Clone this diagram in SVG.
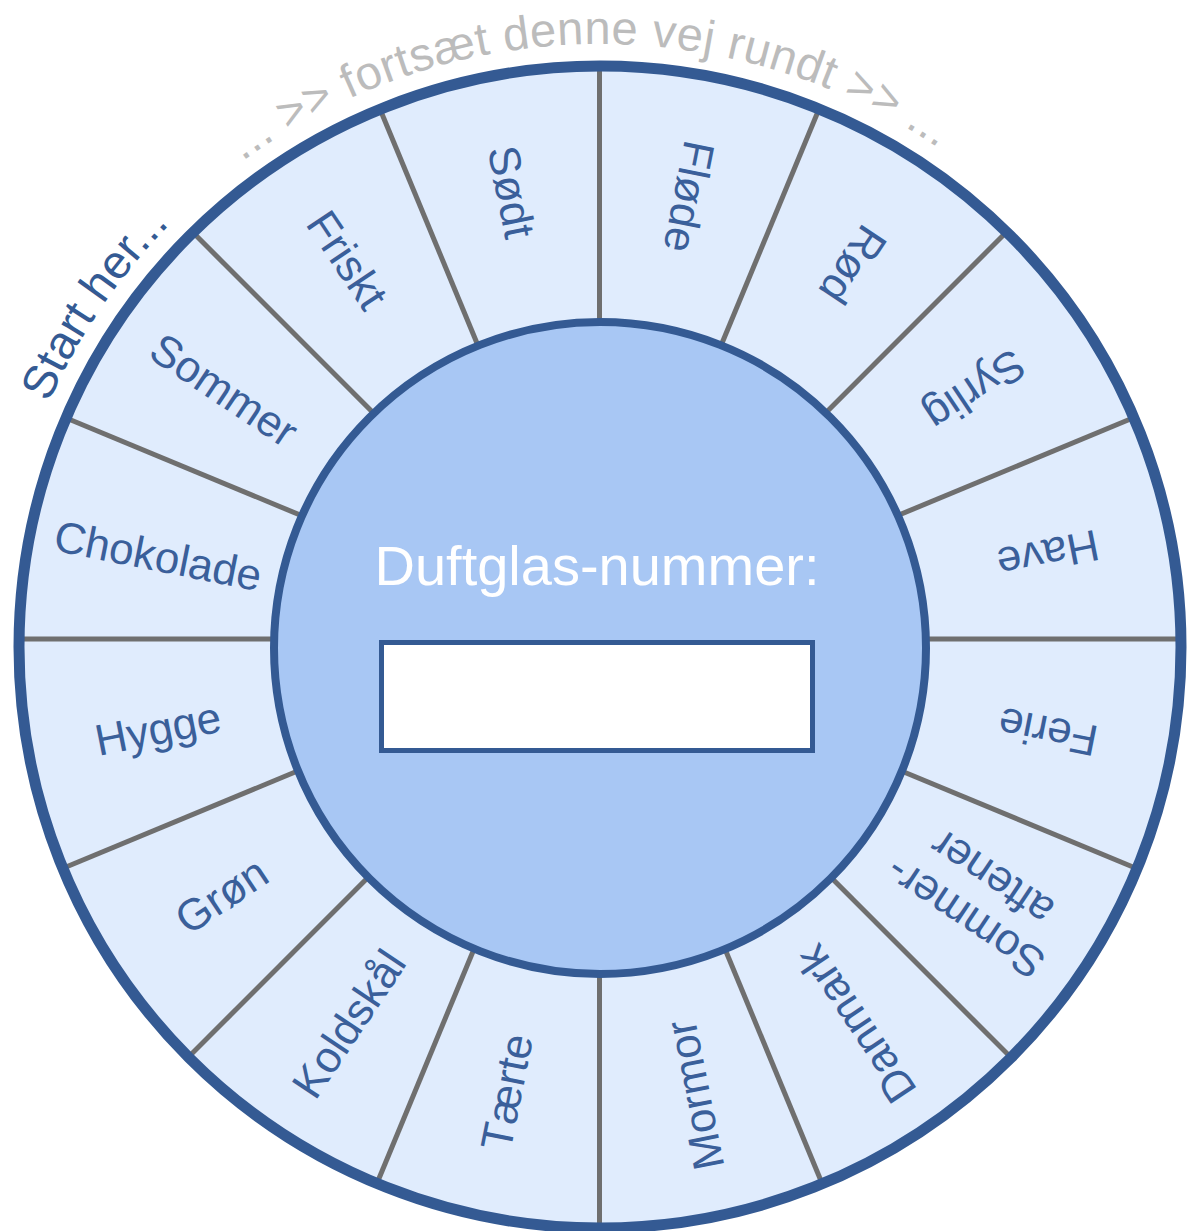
<svg xmlns="http://www.w3.org/2000/svg" width="1192" height="1231" viewBox="0 0 1192 1231">
  <defs>
    <style>
      .lbl { font-family: "Liberation Sans", Arial, sans-serif; font-size: 44px; fill: #3a5f9a; text-anchor: middle; }
      .div { stroke: #6f6f6f; stroke-width: 5; stroke-linecap: butt; }
      .arc { font-family: "Liberation Sans", Arial, sans-serif; font-size: 47px; }
    </style>
    <path id="topArc" d="M -3,647 A 603 603 0 0 1 1203,647" fill="none"/>
  </defs>
  <rect width="1192" height="1231" fill="#ffffff"/>

  <g id="ring">
    <circle cx="600" cy="647" r="581" fill="#e0ecfd"/>
  </g>

  <g id="connectors">
    <line class="div" x1="299.5" y1="639" x2="21.5" y2="639"/>
    <line class="div" x1="322.3" y1="524.2" x2="65.5" y2="417.8"/>
    <line class="div" x1="387.4" y1="426.9" x2="190.8" y2="230.3"/>
    <line class="div" x1="484.7" y1="361.8" x2="378.3" y2="105.0"/>
    <line class="div" x1="599.5" y1="339" x2="599.5" y2="61"/>
    <line class="div" x1="714.3" y1="361.8" x2="820.7" y2="105.0"/>
    <line class="div" x1="811.6" y1="426.9" x2="1008.2" y2="230.3"/>
    <line class="div" x1="876.7" y1="524.2" x2="1133.5" y2="417.8"/>
    <line class="div" x1="899.5" y1="639" x2="1177.5" y2="639"/>
    <line class="div" x1="876.7" y1="760.8" x2="1137.2" y2="868.7"/>
    <line class="div" x1="811.6" y1="858.1" x2="1011.0" y2="1057.5"/>
    <line class="div" x1="714.3" y1="923.2" x2="822.2" y2="1183.7"/>
    <line class="div" x1="599.5" y1="946" x2="599.5" y2="1228"/>
    <line class="div" x1="484.7" y1="923.2" x2="376.8" y2="1183.7"/>
    <line class="div" x1="387.4" y1="858.1" x2="188.0" y2="1057.5"/>
    <line class="div" x1="322.3" y1="760.8" x2="61.8" y2="868.7"/>
  </g>

  <g id="outer-rim">
    <circle cx="600" cy="647" r="581" fill="none" stroke="#345a93" stroke-width="11"/>
  </g>

  <g id="center">
    <circle cx="600" cy="648" r="326" fill="#a8c7f4" stroke="#345a93" stroke-width="8"/>
    <text x="597" y="585" font-family="'Liberation Sans', Arial, sans-serif" font-size="56" fill="#ffffff" text-anchor="middle">Duftglas-nummer:</text>
    <rect x="381.5" y="642.5" width="431" height="108" fill="#ffffff" stroke="#345a93" stroke-width="5"/>
  </g>

  <g id="label-sodt"><text class="lbl" transform="translate(511.2,192) rotate(78.75)" y="15">Sødt</text></g>
  <g id="label-flode"><text class="lbl" transform="translate(688.8,196.7) rotate(101.25)" y="15">Fløde</text></g>
  <g id="label-rod"><text class="lbl" transform="translate(852.8,264.7) rotate(123.75)" y="15">Rød</text></g>
  <g id="label-syrlig"><text class="lbl" transform="translate(975,390.2) rotate(146.25)" y="15">Syrlig</text></g>
  <g id="label-have"><text class="lbl" transform="translate(1048,554.2) rotate(168.75)" y="15">Have</text></g>
  <g id="label-ferie"><text class="lbl" transform="translate(1048,731.8) rotate(191.25)" y="15">Ferie</text></g>
  <g id="label-sommeraftener"><text class="lbl" transform="translate(978.3,898) rotate(213.75)"><tspan x="0" y="-9">Sommer-</tspan><tspan x="0" y="39">aftener</tspan></text></g>
  <g id="label-danmark"><text class="lbl" transform="translate(856,1024) rotate(236.25)" y="15">Danmark</text></g>
  <g id="label-mormor"><text class="lbl" transform="translate(695,1095) rotate(258.75)" y="15">Mormor</text></g>
  <g id="label-taerte"><text class="lbl" transform="translate(507,1092) rotate(-78.75)" y="15">Tærte</text></g>
  <g id="label-koldskal"><text class="lbl" transform="translate(349,1024) rotate(-56.25)" y="15">Koldskål</text></g>
  <g id="label-gron"><text class="lbl" transform="translate(221.7,895.8) rotate(-33.75)" y="15">Grøn</text></g>
  <g id="label-hygge"><text class="lbl" transform="translate(158,729) rotate(-11.25)" y="15">Hygge</text></g>
  <g id="label-chokolade"><text class="lbl" transform="translate(158,556) rotate(11.25)" y="15">Chokolade</text></g>
  <g id="label-sommer"><text class="lbl" transform="translate(224,390.2) rotate(33.75)" y="15">Sommer</text></g>
  <g id="label-friskt"><text class="lbl" transform="translate(347.2,260) rotate(56.25)" y="15">Friskt</text></g>

  <g id="arc-texts">
    <text class="arc" fill="#345a93" text-anchor="middle"><textPath href="#topArc" startOffset="19.0%">Start her...</textPath></text>
    <text class="arc" fill="#bcbcbc" text-anchor="middle" letter-spacing="0.5"><textPath href="#topArc" startOffset="49.4%">... &gt;&gt; fortsæt denne vej rundt &gt;&gt; ...</textPath></text>
  </g>
</svg>
